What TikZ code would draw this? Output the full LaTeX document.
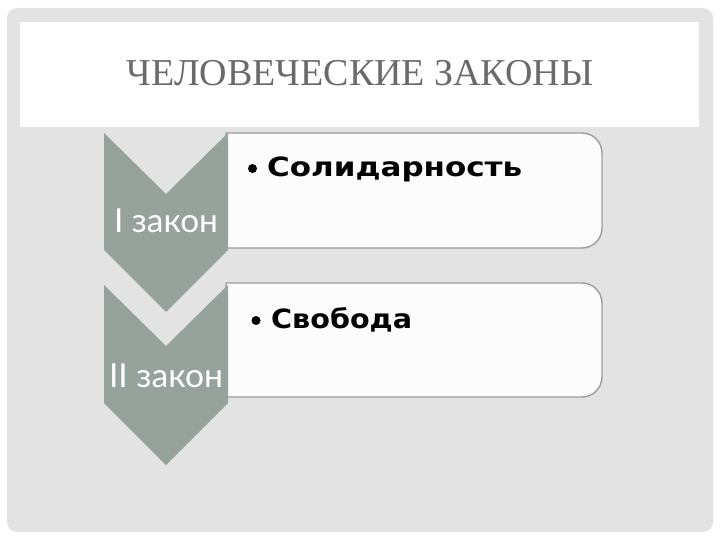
\documentclass[tikz,border=0pt]{standalone}
\usepackage{fontspec}
\usepackage{graphicx}
\setmainfont{Liberation Serif}
\newfontfamily\bodyfont{DejaVu Sans}
\newfontfamily\labelfont{Lato}
\definecolor{bggray}{HTML}{E3E3E3}
\definecolor{chevcol}{HTML}{96A29C}
\definecolor{titlecol}{HTML}{6A6A6A}
\definecolor{boxline}{HTML}{9C9C9C}
\definecolor{boxfill}{HTML}{FCFCFC}
\tikzset{
  chevron/.style={fill=chevcol, draw=none},
  listbox/.style={fill=boxfill, draw=boxline, line width=1.4pt},
  titletext/.style={font=\fontsize{38}{40}\selectfont, text=titlecol, inner sep=0pt},
  bullettext/.style={font=\bodyfont\bfseries\fontsize{26.5}{28}\selectfont, text=black, inner sep=0pt, anchor=base west},
  bulletdot/.style={circle, fill=black, inner sep=0pt, minimum size=9pt},
  labeltext/.style={font=\labelfont\fontsize{33}{35}\selectfont, text=white, inner sep=0pt, anchor=base}
}
\begin{document}
\begin{tikzpicture}[x=1pt,y=-1pt]
\useasboundingbox (0,0) rectangle (720,540);
\fill[white] (0,0) rectangle (720,540);
\fill[bggray, rounded corners=10pt] (7,8) rectangle (713,532);
\fill[white] (20,22) rectangle (699,127);
\node[titletext, anchor=base] (title) at (360,86) {ЧЕЛОВЕЧЕСКИЕ ЗАКОНЫ};
% boxes
\draw[listbox] (226,133) -- (582,133) .. controls (593,133) and (602,142) .. (602,153)
  -- (602,228) .. controls (602,239) and (593,248) .. (582,248) -- (226,248) -- cycle;
\draw[listbox] (226,283) -- (582,283) .. controls (593,283) and (602,292) .. (602,303)
  -- (602,377) .. controls (602,388) and (593,397) .. (582,397) -- (226,397) -- cycle;
% chevrons
\fill[chevron] (104,133) -- (166,194) -- (228,133) -- (228,250) -- (166,312) -- (104,250) -- cycle;
\fill[chevron] (104,285) -- (166,346) -- (228,285) -- (228,403) -- (166,465) -- (104,403) -- cycle;
% texts
\node[bulletdot] (b1) at (252.5,168.5) {};
\node[bullettext] (t1) at (267,177) {\resizebox{255pt}{\height}{Солидарность}};
\node[bulletdot] (b2) at (256,320.5) {};
\node[bullettext] (t2) at (271,328) {\resizebox{141pt}{\height}{Свобода}};
\node[labeltext] (l1) at (166,233) {\resizebox{104pt}{\height}{I закон}};
\node[labeltext] (l2) at (166,387) {\resizebox{114pt}{\height}{II закон}};
\end{tikzpicture}
\end{document}
